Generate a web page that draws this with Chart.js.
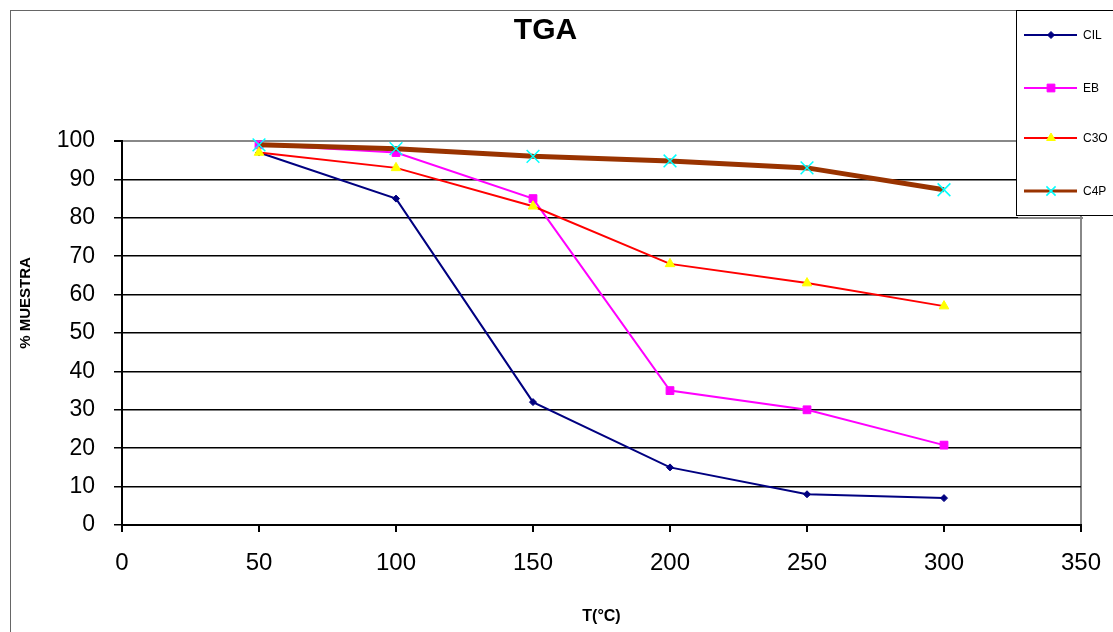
<!DOCTYPE html>
<html>
<head>
<meta charset="utf-8">
<script src="https://cdn.jsdelivr.net/npm/chart.js@4/dist/chart.umd.min.js"></script>
<style>
  html, body { margin: 0; padding: 0; background: #fff; }
  canvas { display: block; }
</style>
</head>
<body>
<canvas id="tga" width="1113" height="632"></canvas>
<script>
const FONT = "'Liberation Sans', Arial, sans-serif";

const temps = [50, 100, 150, 200, 250, 300];
const seriesNames = ['CIL', 'EB', 'C3O', 'C4P'];
const cil = [97, 85, 32, 15, 8, 7];
const eb = [99, 97, 85, 35, 30, 20.8];
const c3o = [97, 93, 83, 68, 63, 57];
const c4p = [99, 98, 96, 94.8, 93, 87.3];

const styles = [
  { line: '#000080', width: 2, point: 'rectRot', radius: 3.5, legendRadius: 3.5, fill: '#000080', stroke: '#000080', order: 3 },
  { line: '#FF00FF', width: 2, point: 'rect', radius: 5.5, legendRadius: 5.5, fill: '#FF00FF', stroke: '#FF00FF', order: 2 },
  { line: '#FF0000', width: 2, point: 'triangle', radius: 5.5, legendRadius: 5, fill: '#FFFF00', stroke: '#FFFF00', order: 1 },
  { line: '#993300', width: 5, point: 'crossRot', radius: 9, legendRadius: 6.5, fill: '#00FFFF', stroke: '#00FFFF', order: 0 },
];

function toPoints(values) {
  return values.map((v, i) => ({ x: temps[i], y: v }));
}

const datasets = [cil, eb, c3o, c4p].map((vals, i) => ({
  label: seriesNames[i],
  data: toPoints(vals),
  borderColor: styles[i].line,
  borderWidth: styles[i].width,
  pointStyle: styles[i].point,
  pointRadius: styles[i].radius,
  pointBackgroundColor: styles[i].fill,
  pointBorderColor: styles[i].stroke,
  pointBorderWidth: i === 3 ? 1.5 : 1,
  tension: 0,
  order: styles[i].order,
  clip: false,
}));

// frame around the whole chart, the y title and the boxed legend
const decor = {
  id: 'decor',
  beforeDraw(chart) {
    const ctx = chart.ctx;
    ctx.save();
    ctx.fillStyle = '#fff';
    ctx.fillRect(0, 0, chart.width, chart.height);
    ctx.strokeStyle = '#666';
    ctx.lineWidth = 1;
    ctx.strokeRect(10.5, 10.5, chart.width, chart.height);
    ctx.restore();
  },
  afterDraw(chart) {
    const ctx = chart.ctx;
    ctx.save();
    // y axis title
    ctx.translate(26, 303);
    ctx.rotate(-Math.PI / 2);
    ctx.fillStyle = '#000';
    ctx.font = 'bold 15px ' + FONT;
    ctx.textAlign = 'center';
    ctx.textBaseline = 'middle';
    ctx.fillText('% MUESTRA', 0, 0);
    ctx.restore();

    // legend box
    ctx.save();
    ctx.fillStyle = '#fff';
    ctx.fillRect(1016, 10, 120, 205);
    ctx.strokeStyle = '#000';
    ctx.lineWidth = 1;
    ctx.strokeRect(1016.5, 10.5, 120, 205);
    ctx.strokeStyle = '#888';
    ctx.lineWidth = 2;
    ctx.beginPath();
    ctx.moveTo(1018, 218);
    ctx.lineTo(1083, 218);
    ctx.stroke();

    const rows = [35, 88, 138, 191];
    chart.data.datasets.forEach((ds, i) => {
      const y = rows[i];
      ctx.strokeStyle = ds.borderColor;
      ctx.lineWidth = i === 3 ? 3 : 2;
      ctx.beginPath();
      ctx.moveTo(1024, y);
      ctx.lineTo(1077, y);
      ctx.stroke();
      ctx.fillStyle = ds.pointBackgroundColor;
      ctx.strokeStyle = ds.pointBorderColor;
      ctx.lineWidth = ds.pointBorderWidth;
      Chart.helpers.drawPoint(ctx, { pointStyle: ds.pointStyle, radius: styles[i].legendRadius, borderWidth: ds.pointBorderWidth }, 1051, y);
      ctx.fillStyle = '#000';
      ctx.font = '12px ' + FONT;
      ctx.textAlign = 'left';
      ctx.textBaseline = 'middle';
      ctx.fillText(ds.label, 1083, y + 1);
    });
    ctx.restore();
  },
};

new Chart(document.getElementById('tga'), {
  type: 'line',
  data: { datasets },
  plugins: [decor],
  options: {
    responsive: false,
    animation: false,
    devicePixelRatio: 1,
    layout: { padding: { left: 10, right: 32, top: 0, bottom: 0 } },
    plugins: {
      legend: { display: false },
      tooltip: { enabled: false },
      title: {
        display: true,
        text: 'TGA',
        color: '#000',
        font: { family: FONT, size: 30, weight: 'bold' },
        padding: { top: 12.5, bottom: 92.5 },
      },
    },
    scales: {
      x: {
        type: 'linear',
        min: 0,
        max: 350,
        afterFit: s => {
          s.height = 107;
          s.paddingLeft = 0;
          s.paddingRight = 0;
        },
        ticks: {
          stepSize: 50,
          color: '#000',
          padding: 17,
          font: { family: FONT, size: 24 },
        },
        grid: {
          drawOnChartArea: true,
          color: c => (c.tick && c.tick.value === 350 ? '#888' : 'rgba(0,0,0,0)'),
          lineWidth: 2,
          tickColor: '#000',
          tickLength: 7,
        },
        border: { color: '#000', width: 2 },
        title: {
          display: true,
          text: 'T(°C)',
          color: '#000',
          font: { family: FONT, size: 16, weight: 'bold' },
          padding: { top: 0, bottom: 6 },
        },
      },
      y: {
        min: 0,
        max: 100,
        afterFit: s => { s.width = 112; },
        ticks: {
          stepSize: 10,
          color: '#000',
          padding: 19,
          font: { family: FONT, size: 23 },
        },
        grid: {
          color: c => (c.tick && c.tick.value === 100 ? '#888' : '#000'),
          lineWidth: c => (c.tick && c.tick.value === 100 ? 2 : 1.5),
          tickColor: '#000',
          tickLength: 8,
        },
        border: { color: '#000', width: 2 },
      },
    },
  },
});
</script>
</body>
</html>
